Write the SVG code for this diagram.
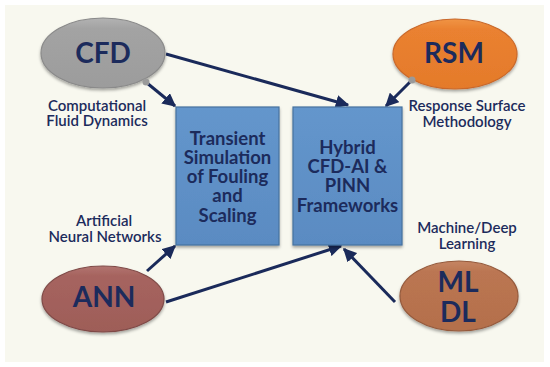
<svg xmlns="http://www.w3.org/2000/svg" width="550" height="367" viewBox="0 0 550 367">
  <defs>
    <style>
      .lbl { font-family: Lato, "Open Sans", "DejaVu Sans", sans-serif; fill: #1c2b5c; text-anchor: middle; }
      .big { font-size: 28px; font-weight: bold; }
      .box { font-size: 18.5px; font-weight: bold; }
      .cap { font-size: 15px; font-weight: 600; }
      .conn { stroke: #1a2a5a; stroke-width: 3; fill: none; marker-end: url(#ah); }
      .rect { stroke: #46729f; stroke-width: 1.2; }
      .ell { stroke-width: 1.2; }
    </style>
    <marker id="ah" viewBox="0 0 10 10" refX="9" refY="5" markerWidth="4.5" markerHeight="4.5" orient="auto" markerUnits="strokeWidth">
      <path d="M0,0 L10,5 L0,10 z" fill="#1a2a5a"/>
    </marker>
    <filter id="sh" x="-20%" y="-20%" width="140%" height="150%">
      <feDropShadow dx="0" dy="2" stdDeviation="1.6" flood-color="#000" flood-opacity="0.35"/>
    </filter>
    <linearGradient id="gBox" x1="0" y1="0" x2="0" y2="1">
      <stop offset="0" stop-color="#6496cc"/>
      <stop offset="1" stop-color="#5a8bc2"/>
    </linearGradient>
    <linearGradient id="gCfd" x1="0" y1="0" x2="0" y2="1">
      <stop offset="0" stop-color="#b3b3b3"/>
      <stop offset="0.15" stop-color="#a3a3a3"/>
      <stop offset="1" stop-color="#9c9c9c"/>
    </linearGradient>
    <linearGradient id="gRsm" x1="0" y1="0" x2="0" y2="1">
      <stop offset="0" stop-color="#f09445"/>
      <stop offset="0.15" stop-color="#ea8130"/>
      <stop offset="1" stop-color="#e47a2b"/>
    </linearGradient>
    <linearGradient id="gAnn" x1="0" y1="0" x2="0" y2="1">
      <stop offset="0" stop-color="#b27470"/>
      <stop offset="0.15" stop-color="#a6645f"/>
      <stop offset="1" stop-color="#9e5d58"/>
    </linearGradient>
    <linearGradient id="gMl" x1="0" y1="0" x2="0" y2="1">
      <stop offset="0" stop-color="#c58563"/>
      <stop offset="0.15" stop-color="#bb7652"/>
      <stop offset="1" stop-color="#b46f4b"/>
    </linearGradient>
  </defs>

  <rect x="0" y="0" width="550" height="367" fill="#ffffff"/>
  <rect x="5" y="5" width="539" height="357" fill="#f8f8ef"/>

  <g id="connectors">
    <line class="conn" x1="147" y1="83" x2="175" y2="106"/>
    <line class="conn" x1="166" y1="54" x2="348" y2="105"/>
    <line class="conn" x1="412" y1="80" x2="386" y2="106"/>
    <line class="conn" x1="147" y1="271" x2="175" y2="246"/>
    <line class="conn" x1="166" y1="302" x2="341" y2="246"/>
    <line class="conn" x1="395" y1="302" x2="344" y2="249"/>
  </g>

  <g id="box-transient">
    <rect class="rect" x="176" y="107" width="103" height="138" fill="url(#gBox)" filter="url(#sh)"/>
    <text class="lbl box" x="227.5" y="145">Transient</text>
    <text class="lbl box" x="227.5" y="164">Simulation</text>
    <text class="lbl box" x="227.5" y="183">of Fouling</text>
    <text class="lbl box" x="227.5" y="202">and</text>
    <text class="lbl box" x="227.5" y="222">Scaling</text>
  </g>

  <g id="box-hybrid">
    <rect class="rect" x="293" y="107" width="109" height="138" fill="url(#gBox)" filter="url(#sh)"/>
    <text class="lbl box" x="347.5" y="154">Hybrid</text>
    <text class="lbl box" x="347.5" y="173">CFD-AI &amp;</text>
    <text class="lbl box" x="347.5" y="192">PINN</text>
    <text class="lbl box" x="347.5" y="212">Frameworks</text>
  </g>

  <g id="node-cfd">
    <ellipse class="ell" cx="103" cy="53" rx="62" ry="35" fill="url(#gCfd)" stroke="#8a8a8a" filter="url(#sh)"/>
    <circle cx="146" cy="82" r="3.5" fill="#9a9a9a"/>
    <text class="lbl big" x="103" y="63">CFD</text>
    <text class="lbl cap" x="97" y="111">Computational</text>
    <text class="lbl cap" x="97" y="126">Fluid Dynamics</text>
  </g>

  <g id="node-rsm">
    <ellipse class="ell" cx="455" cy="54" rx="62" ry="35" fill="url(#gRsm)" stroke="#c9682a" filter="url(#sh)"/>
    <circle cx="412" cy="80" r="3.5" fill="#9a9a9a"/>
    <text class="lbl big" x="454" y="63">RSM</text>
    <text class="lbl cap" x="467" y="111">Response Surface</text>
    <text class="lbl cap" x="467" y="127">Methodology</text>
  </g>

  <g id="node-ann">
    <ellipse class="ell" cx="103" cy="299" rx="61" ry="33" fill="url(#gAnn)" stroke="#7f4a47" filter="url(#sh)"/>
    <text class="lbl big" x="104" y="307">ANN</text>
    <text class="lbl cap" x="104" y="226">Artificial</text>
    <text class="lbl cap" x="105" y="242">Neural Networks</text>
  </g>

  <g id="node-mldl">
    <ellipse class="ell" cx="459" cy="296" rx="59" ry="35" fill="url(#gMl)" stroke="#955a3c" filter="url(#sh)"/>
    <text class="lbl big" x="458" y="292">ML</text>
    <text class="lbl big" x="458" y="322">DL</text>
    <text class="lbl cap" x="467" y="233">Machine/Deep</text>
    <text class="lbl cap" x="467" y="249">Learning</text>
  </g>
</svg>
